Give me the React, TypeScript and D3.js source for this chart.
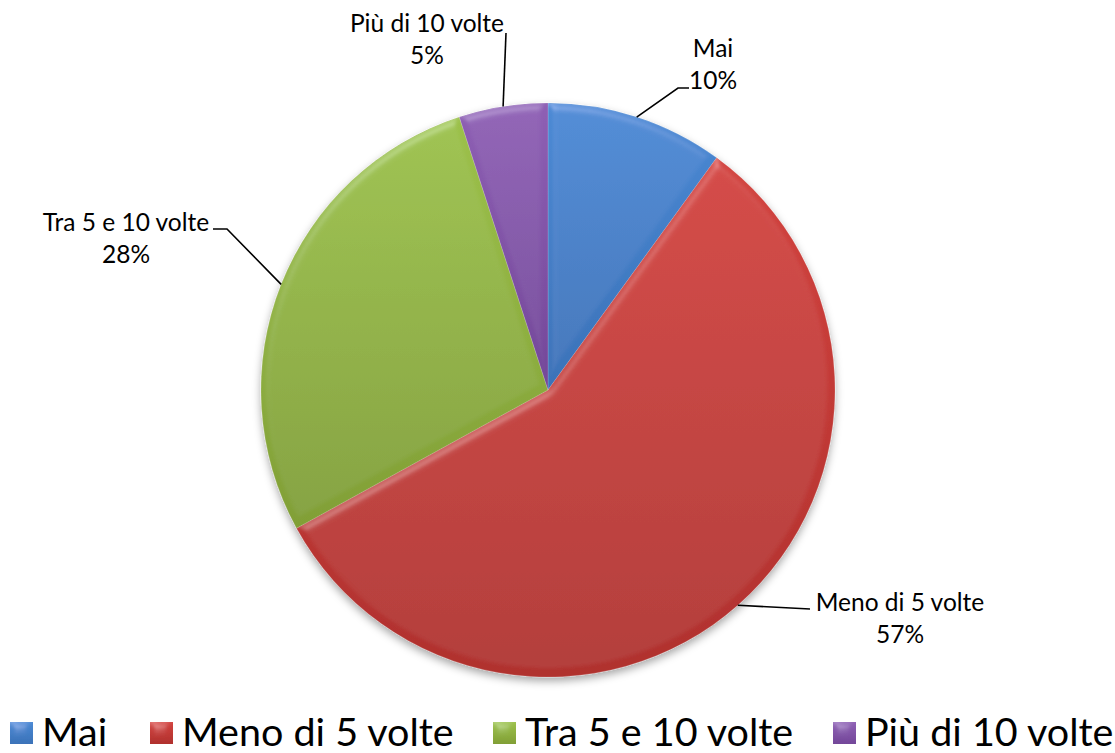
import React from "react";
import * as d3 from "d3";

// categories and shares (percent)
const categories = ["Mai", "Meno di 5 volte", "Tra 5 e 10 volte", "Più di 10 volte"];
const values = [10, 57, 28, 5];
const colors = ["#4A89D4", "#D2423E", "#9CC14A", "#8E5FB4"];
const darkColors = ["#3B72B8", "#B0312E", "#819F36", "#734799"];

// label placement (text centre, in px from pie centre) and leader elbow
const labelLayout = [
    { dx: 165, dy: -333, elbow: [[130, -302], [141, -302]] },
    { dx: 352, dy: 221, elbow: [[262, 219]] },
    { dx: -422, dy: -159, elbow: [[-321, -161], [-335, -161]] },
    { dx: -121, dy: -358, elbow: [[-42, -357]] },
];

const W = 1115;
const H = 753;
const cx = 548;
const cy = 390;
const R = 287;
const font = "Lato, 'Open Sans', sans-serif";

export default function App() {
    const pie = d3.pie<number>().sort(null).value(d => d);
    const arcs = pie(values);
    const arc = d3.arc<d3.PieArcDatum<number>>().innerRadius(0).outerRadius(R);
    const total = d3.sum(values);

    // legend layout
    const legendX = [10, 150, 493, 833];

    return (
        <svg width={W} height={H} style={{ position: "absolute", left: 0, top: 0 }}
            fontFamily={font}>
            <defs>
                <filter id="bevel" x="-10%" y="-10%" width="120%" height="120%">
                    <feGaussianBlur in="SourceAlpha" stdDeviation="4" result="blur" />
                    <feSpecularLighting in="blur" surfaceScale="4" specularConstant="0.4"
                        specularExponent="20" lightingColor="#ffffff" result="spec">
                        <feDistantLight azimuth="250" elevation="40" />
                    </feSpecularLighting>
                    <feComposite in="spec" in2="SourceAlpha" operator="in" result="specIn" />
                    <feComposite in="SourceGraphic" in2="specIn" operator="arithmetic"
                        k1="0" k2="1" k3="0.35" k4="0" />
                </filter>
                <filter id="shadow" x="-10%" y="-10%" width="120%" height="125%">
                    <feDropShadow dx="0" dy="4" stdDeviation="4" floodColor="#000" floodOpacity="0.35" />
                </filter>
                {colors.map((c, i) => (
                    <linearGradient key={i} id={`g${i}`} x1="0" y1="0" x2="0" y2="1">
                        <stop offset="0" stopColor={c} />
                        <stop offset="1" stopColor={darkColors[i]} />
                    </linearGradient>
                ))}
            </defs>

            <g transform={`translate(${cx},${cy})`} filter="url(#shadow)">
                {arcs.map((a, i) => (
                    <path key={i} d={arc(a)!} fill={`url(#g${i})`} filter="url(#bevel)"
                        stroke="#ffffff" strokeOpacity={0.2} strokeWidth={0.8} />
                ))}
            </g>

            {/* leader lines and labels */}
            <g transform={`translate(${cx},${cy})`}>
                {arcs.map((a, i) => {
                    const mid = (a.startAngle + a.endAngle) / 2;
                    const p0: [number, number] = [Math.sin(mid) * R, -Math.cos(mid) * R];
                    const pts = [p0, ...(labelLayout[i].elbow as [number, number][])];
                    const lay = labelLayout[i];
                    return (
                        <g key={i}>
                            <path d={d3.line()(pts)!} fill="none" stroke="#000" strokeWidth={1.6} />
                            <text x={lay.dx} y={lay.dy} textAnchor="middle" fontSize={24.5}
                                fill="#000">
                                <tspan x={lay.dx} dy="0">{categories[i]}</tspan>
                                <tspan x={lay.dx} dy="32">{Math.round(values[i] / total * 100)}%</tspan>
                            </text>
                        </g>
                    );
                })}
            </g>

            {/* legend */}
            <g>
                {categories.map((c, i) => (
                    <g key={c} transform={`translate(${legendX[i]},722)`}>
                        <rect width={23} height={22} fill={`url(#g${i})`} filter="url(#bevel)" />
                        <text x={32} y={24} fontSize={39.5} fill="#000">{c}</text>
                    </g>
                ))}
            </g>
        </svg>
    );
}
